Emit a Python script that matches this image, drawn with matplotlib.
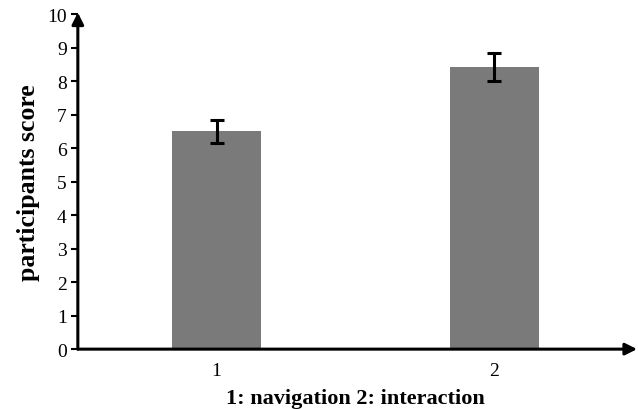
import matplotlib.pyplot as plt

# data
categories = ["1", "2"]
scores = [6.5, 8.42]
errors = [0.34, 0.43]

plt.rcParams['font.family'] = ['Liberation Serif', 'DejaVu Serif']

fig = plt.figure(figsize=(6.38, 4.10), dpi=100)
ax = fig.add_axes([0.122, 0.146, 0.87, 0.817])

x = [1, 2]
ax.bar(x, scores, width=0.32, color='#7a7a7a', zorder=2)
ax.errorbar(x, scores, yerr=errors, fmt='none', ecolor='black',
            elinewidth=2.2, capsize=5, capthick=2.2, zorder=3)

ax.set_xlim(0.5, 2.5)
ax.set_ylim(0, 10)
ax.set_yticks(range(0, 11))
ax.set_xticks(x)
ax.set_xticklabels(categories)
ax.tick_params(axis='y', direction='out', length=5, width=1.5, labelsize=14, pad=3)
ax.tick_params(axis='x', length=0, labelsize=14, pad=9)

for s in ax.spines.values():
    s.set_visible(False)

# axes with arrowheads
ax.annotate('', xy=(0.5, 10.05), xytext=(0.5, 0), xycoords='data',
            arrowprops=dict(arrowstyle='-|>,head_width=0.35,head_length=0.7',
                            color='black', lw=2.2, shrinkA=0, shrinkB=0),
            annotation_clip=False)
ax.annotate('', xy=(2.515, 0), xytext=(0.5, 0), xycoords='data',
            arrowprops=dict(arrowstyle='-|>,head_width=0.35,head_length=0.7',
                            color='black', lw=2.2, shrinkA=0, shrinkB=0),
            annotation_clip=False)

ax.set_ylabel('participants score', fontsize=18.5, fontweight='bold', labelpad=5)
ax.set_xlabel('1: navigation 2: interaction', fontsize=16, fontweight='bold', labelpad=6.5)

fig.savefig('out.png', dpi=100)
